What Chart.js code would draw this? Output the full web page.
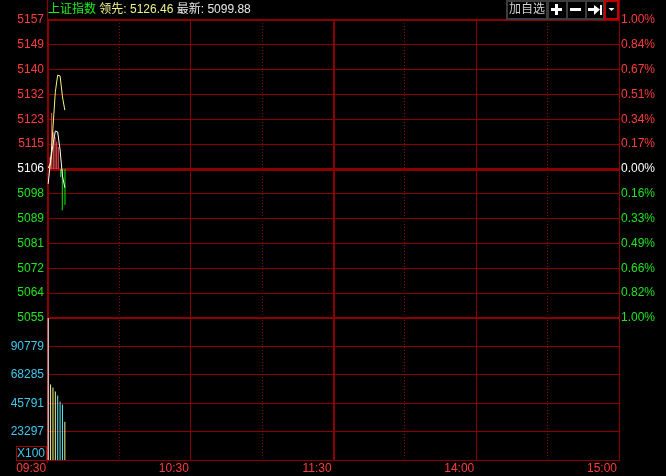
<!DOCTYPE html>
<html>
<head>
<meta charset="utf-8">
<script src="https://cdn.jsdelivr.net/npm/chart.js@4.4.1/dist/chart.umd.min.js"></script>
<style>
  html, body { margin: 0; padding: 0; background: #000; }
  #wrap { width: 666px; height: 476px; }
</style>
</head>
<body>
<div id="wrap"><canvas id="c" width="666" height="476"></canvas></div>
<script>
// 上证指数 previous close (the 0.00% line)
const prevClose = 5106.3;

// minutes after 09:30
const minutes = [0, 1, 2, 3, 4, 5, 6, 7];
const price = [5101.2, 5109.4, 5114.5, 5119.3, 5119.0, 5112.8, 5103.9, 5099.88];
const lead  = [5106.6, 5108.3, 5120.3, 5132.7, 5138.5, 5138.2, 5131.0, 5126.46];
const volume = [113273, 60630, 58240, 55050, 51860, 47070, 44680, 31110];
const volDir = ['open', 'up', 'up', 'up', 'down', 'down', 'down', 'up'];

// red / green strength bars
const barMinutes = [0.76, 1.47, 2.14, 2.86, 3.58, 4.25, 5.26, 5.93, 7.06];
const barValues  = [5110.4, 5125.5, 5118.9, 5117.3, 5115.6, 5113.8, 5103.6, 5092.2, 5094.0];

// axis labels, top to bottom
const priceLabels = ['5157','5149','5140','5132','5123','5115','5106','5098','5089','5081','5072','5064','5055'];
const pctLabels = ['1.00%','0.84%','0.67%','0.51%','0.34%','0.17%','0.00%','0.16%','0.33%','0.49%','0.66%','0.82%','1.00%'];
const volTicks = [23297, 45791, 68285, 90779];
const volMin = 803, volMax = 113273;
const gridMinutes = [0, 30, 60, 90, 120, 150, 180, 210, 240];
const timeLabels = ['09:30', '', '10:30', '', '11:30', '', '14:00', '', '15:00'];

const GRID = '#8c0000';
const RED = '#ff3c3c';
const GREEN = '#1ee61e';
const WHITE = '#ffffff';
const CYAN_TXT = '#40c8ec';
const FONT = { family: '"Liberation Sans", Arial, sans-serif', size: 12 };

const pMin = prevClose * 0.99, pMax = prevClose * 1.01;
const mid = (priceLabels.length - 1) / 2;

function priceTicks(s) {
  const n = priceLabels.length - 1;
  s.ticks = priceLabels.map((_, i) => ({ value: pMin + (pMax - pMin) * i / n }));
}
function labelColor(ctx) {
  const k = priceLabels.length - 1 - ctx.index;
  return k < mid ? RED : k === mid ? WHITE : GREEN;
}

const volColors = volDir.map(d => d === 'open' ? '#ffffff' : d === 'up' ? '#f5f58c' : '#50f0f8');
const strengthColors = barValues.map(v => v >= prevClose ? '#ff5050' : '#00f000');

const chrome = {
  id: 'chrome',
  beforeDraw(chart) {
    const c = chart.ctx;
    c.save();
    c.fillStyle = '#000';
    c.fillRect(0, 0, chart.width, chart.height);
    c.restore();
  },
  afterDraw(chart) {
    const c = chart.ctx, a = chart.chartArea;
    c.save();
    // frame running up through the header and a little below the time axis
    c.strokeStyle = GRID; c.lineWidth = 1;
    c.beginPath();
    const lx = Math.round(a.left) + 0.5, rx = Math.round(a.right) + 0.5;
    c.moveTo(lx, 0); c.lineTo(lx, a.top);
    c.moveTo(lx, a.bottom); c.lineTo(lx, a.bottom + 3);
    c.moveTo(rx, 0); c.lineTo(rx, a.top);
    c.stroke();

    // title
    c.font = '12px "Liberation Sans", "Noto Sans CJK SC", sans-serif';
    c.textBaseline = 'middle';
    c.textAlign = 'left';
    let x = a.left + 1;
    const parts = [
      ['上证指数 ', '#1ef01e'],
      ['领先: ' + lead[lead.length - 1].toFixed(2) + ' ', '#f0f08c'],
      ['最新: ' + price[price.length - 1].toFixed(2), '#e8e8e8']
    ];
    parts.forEach(([t, col]) => {
      c.fillStyle = col;
      c.fillText(t, x, 10);
      x += c.measureText(t).width;
    });

    // buttons
    c.strokeStyle = '#3c3c3c'; c.lineWidth = 2;
    c.strokeRect(507, 1, 40, 18);
    c.strokeRect(548, 1, 19, 18);
    c.strokeRect(567, 1, 19, 18);
    c.strokeRect(586, 1, 18, 18);
    c.strokeStyle = '#c00000';
    c.strokeRect(605, 1, 13, 18);
    c.fillStyle = '#d0d0d0';
    c.textAlign = 'center';
    c.fillText('加自选', 527, 10);
    c.fillStyle = '#ffffff';
    c.fillRect(551, 8, 11, 3);
    c.fillRect(555, 4, 3, 11);
    c.fillRect(570, 8, 11, 3);
    c.fillRect(588, 8, 7, 3);
    c.beginPath(); c.moveTo(594, 5); c.lineTo(600, 9.5); c.lineTo(594, 15); c.closePath(); c.fill();
    c.fillRect(600, 5, 2, 10);
    c.beginPath(); c.moveTo(608.5, 8); c.lineTo(614.5, 8); c.lineTo(611.5, 11); c.closePath(); c.fill();

    // volume unit box
    c.strokeStyle = '#a00000'; c.lineWidth = 1;
    c.strokeRect(16.5, 446.5, 30, 14);
    c.fillStyle = CYAN_TXT;
    c.fillText('X100', 31, 454);
    c.restore();
  }
};

new Chart(document.getElementById('c'), {
  type: 'line',
  data: {
    datasets: [
      {
        label: '最新', yAxisID: 'y', order: 1,
        data: minutes.map((m, i) => ({ x: m, y: price[i] })),
        borderColor: '#ffffff', borderWidth: 1, pointRadius: 0, tension: 0
      },
      {
        label: '领先', yAxisID: 'y', order: 2,
        data: minutes.map((m, i) => ({ x: m, y: lead[i] })),
        borderColor: '#f5f57a', borderWidth: 1, pointRadius: 0, tension: 0
      },
      {
        type: 'bar', label: '强弱', yAxisID: 'y', order: 3, grouped: false,
        data: barMinutes.map((m, i) => ({ x: m, y: [prevClose, barValues[i]] })),
        backgroundColor: strengthColors, barThickness: 1, borderWidth: 0, inflateAmount: 0
      },
      {
        type: 'bar', label: '成交量', yAxisID: 'yv', order: 4, grouped: false,
        data: minutes.map((m, i) => ({ x: m, y: volume[i] })),
        backgroundColor: volColors, barThickness: 1, borderWidth: 0, inflateAmount: 0
      }
    ]
  },
  options: {
    responsive: false,
    animation: false,
    events: [],
    layout: { padding: { top: 20, left: 0, right: 0, bottom: 0 } },
    plugins: { legend: { display: false }, tooltip: { enabled: false } },
    scales: {
      x: {
        type: 'linear', min: -0.5, max: 240, offset: false,
        afterBuildTicks: s => { s.ticks = gridMinutes.map(v => ({ value: Math.max(v, s.min) })); },
        afterFit: s => { s.height = 16; },
        ticks: {
          color: RED, font: FONT, padding: 1, maxRotation: 0, autoSkip: false,
          align: 'end', labelOffset: -2,
          callback: (v, i) => timeLabels[i]
        },
        grid: {
          offset: false, color: GRID, drawTicks: false,
          lineWidth: ctx => (ctx.tick && ctx.tick.value === 120 ? 2 : 1)
        },
        border: {
          color: GRID,
          dash: ctx => (ctx.tick && ctx.index % 2 === 1 ? [1, 2] : [])
        }
      },
      yv: {
        type: 'linear', position: 'left', stack: 'left', stackWeight: 142,
        min: volMin, max: volMax,
        afterBuildTicks: s => { s.ticks = volTicks.map(v => ({ value: v })); },
        afterFit: s => { s.width = 47; },
        ticks: { color: CYAN_TXT, font: FONT, padding: 3, autoSkip: false, callback: v => String(v) },
        grid: { color: GRID, drawTicks: false, lineWidth: 1 },
        border: { color: GRID }
      },
      y: {
        type: 'linear', position: 'left', stack: 'left', stackWeight: 298,
        min: pMin, max: pMax,
        afterBuildTicks: priceTicks,
        afterFit: s => { s.width = 47; },
        ticks: {
          color: labelColor, font: FONT, padding: 3, autoSkip: false,
          callback: (v, i) => priceLabels[priceLabels.length - 1 - i]
        },
        grid: {
          color: GRID, drawTicks: false,
          lineWidth: ctx => (ctx.index === mid ? 3 : (ctx.index === 0 || ctx.index === priceLabels.length - 1) ? 2 : 1)
        },
        border: { color: GRID }
      },
      y2: {
        type: 'linear', position: 'right', stack: 'right', stackWeight: 298,
        min: pMin, max: pMax,
        afterBuildTicks: priceTicks,
        afterFit: s => { s.width = 47; },
        ticks: {
          color: labelColor, font: FONT, padding: 2, autoSkip: false,
          callback: (v, i) => pctLabels[pctLabels.length - 1 - i]
        },
        grid: { drawOnChartArea: false, drawTicks: false },
        border: { color: GRID }
      },
      yv2: {
        type: 'linear', position: 'right', stack: 'right', stackWeight: 142,
        min: volMin, max: volMax,
        afterFit: s => { s.width = 47; },
        ticks: { display: false },
        grid: { display: false },
        border: { color: GRID }
      }
    }
  },
  plugins: [chrome]
});
</script>
</body>
</html>
